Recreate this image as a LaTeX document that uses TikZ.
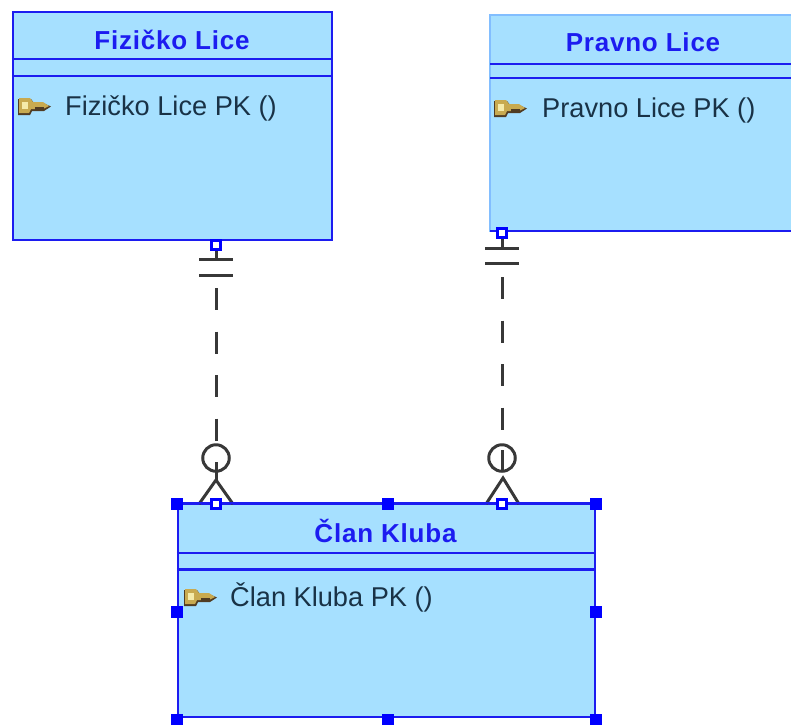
\documentclass[tikz,border=0pt]{standalone}
\usepackage{fontspec}
\setmainfont{Liberation Sans}
\newfontfamily\titlefont[LetterSpace=3]{Liberation Sans}
\definecolor{boxfill}{RGB}{166,224,255}
\definecolor{boxline}{RGB}{28,28,240}
\definecolor{softline}{RGB}{130,190,255}
\definecolor{handleblue}{RGB}{0,0,255}
\definecolor{inktext}{RGB}{25,50,70}
\definecolor{keygold}{RGB}{200,170,80}
\definecolor{keylight}{RGB}{245,235,170}
\definecolor{keydark}{RGB}{80,60,35}
\tikzset{
  x=1pt,y=-1pt,
  entity/.style={draw=boxline,fill=boxfill,line width=2.4pt,inner sep=0pt},
  softentity/.style={draw=softline,fill=boxfill,line width=1.4pt,inner sep=0pt},
  rowline/.style={boxline,line width=2.4pt},
  titletext/.style={text=boxline,font=\fontsize{26}{28}\titlefont\bfseries,inner sep=0pt},
  attrtext/.style={text=inktext,font=\fontsize{27.2}{30}\selectfont,inner sep=0pt,anchor=base west},
  port/.style={draw=handleblue,fill=white,line width=3.2pt,minimum size=8.5pt,inner sep=0pt},
  handle/.style={fill=handleblue,minimum size=12pt,inner sep=0pt},
  link/.style={draw=black!78,line width=3pt},
  dashlink/.style={link,dash pattern=on 22pt off 21.5pt},
  oval/.style={draw=black!78,line width=3pt,circle,minimum size=26.5pt,inner sep=0pt},
}
\newcommand{\keyicon}[2]{%
  \begin{scope}[shift={(#1,#2)}]
    \fill[keydark] (-16,-7) -- (-3,-7) -- (0,-3) -- (9,-3) -- (17,0.5) -- (10,5) -- (-2,5) -- (-4,9) -- (-16,9) -- cycle;
    \fill[keygold] (-15,-8) -- (-4,-8) -- (-1,-4) -- (9,-4) -- (15,0) -- (9,3) -- (-3,3) -- (-5,7) -- (-15,7) -- cycle;
    \fill[keylight] (-12,-4) rectangle (-6,3);
    \fill[keydark] (1,1) rectangle (10,3.5);
  \end{scope}}
\begin{document}
\begin{tikzpicture}
\useasboundingbox (0,0) rectangle (791,724);
% entities
\node[entity,minimum width=319pt,minimum height=228pt] (fizicko) at (172.5,126) {};
\draw[rowline] (fizicko.west |- 0,59) -- (fizicko.east |- 0,59) (fizicko.west |- 0,76) -- (fizicko.east |- 0,76);
\node[titletext] (ftitle) at (172,40) {Fizičko Lice};
\keyicon{34}{106}
\node[attrtext] (fattr) at (65,115) {Fizičko Lice PK ()};

\node[softentity,minimum width=305pt,minimum height=216pt] (pravno) at (642.5,123) {};
\draw[rowline] (490,231) -- (795,231) (490,64) -- (795,64) (490,78) -- (795,78);
\node[titletext] (ptitle) at (643,42) {Pravno Lice};
\keyicon{510}{108}
\node[attrtext] (pattr) at (542,117) {Pravno Lice PK ()};

\node[entity,minimum width=417pt,minimum height=213pt] (clan) at (386.5,610.5) {};
\draw[rowline] (clan.west |- 0,553) -- (clan.east |- 0,553) (clan.west |- 0,569.5) -- (clan.east |- 0,569.5);
\node[titletext] (ctitle) at (385.5,531) {Član Kluba};
\keyicon{200}{597}
\node[attrtext] (cattr) at (230,606) {Član Kluba PK ()};

% ports and circles
\node[port] (pf) at (216,245) {};
\node[port] (pp) at (502,233) {};
\node[port] (cf) at (216,504) {};
\node[port] (cp) at (502,504) {};
\node[oval] (of) at (216,458) {};
\node[oval] (op) at (502,458) {};
% connector way points
\coordinate (tf1) at (216,259);
\coordinate (tf2) at (216,275);
\coordinate (tp1) at (502,248);
\coordinate (tp2) at (502,263.5);
\coordinate (df) at (216,288);
\coordinate (dp) at (502,277);
\coordinate (sf) at (216,462);
\coordinate (sp) at (502,450);
\coordinate (ep) at (502,472);
\coordinate (jf) at (216,480);
\coordinate (jp) at (503,478);
% connectors
\draw[dashlink] (df) -- (216,441);
\draw[dashlink] (dp) -- (502,431);
\draw[link] (pf) -- (tf1);
\draw[link] (pp) -- (tp1);
\draw[link] ([xshift=-17pt]tf1) -- ([xshift=17pt]tf1) ([xshift=-17pt]tf2) -- ([xshift=17pt]tf2);
\draw[link] ([xshift=-17pt]tp1) -- ([xshift=17pt]tp1) ([xshift=-17pt]tp2) -- ([xshift=17pt]tp2);
\draw[link] (sf) -- (jf);
\draw[link] (sp) -- (ep);
\draw[link] ([xshift=-17pt]cf.center) -- (jf) -- ([xshift=17pt]cf.center);
\draw[link] ([xshift=-16pt]cp.center) -- (jp) -- ([xshift=17pt]cp.center);
% box edge and ports over the lines
\draw[boxline,line width=2pt] (clan.north west) -- (clan.north east);
\node[port] at (pf) {};
\node[port] at (pp) {};
\node[port] at (cf) {};
\node[port] at (cp) {};
% selection handles
\foreach \n/\hx/\hy in {a/177/504,b/387.5/504,c/596/504,d/177/612,e/596/612,f/177/720,g/387.5/720,h/596/720}
  \node[handle] (h\n) at (\hx,\hy) {};
\end{tikzpicture}
\end{document}
